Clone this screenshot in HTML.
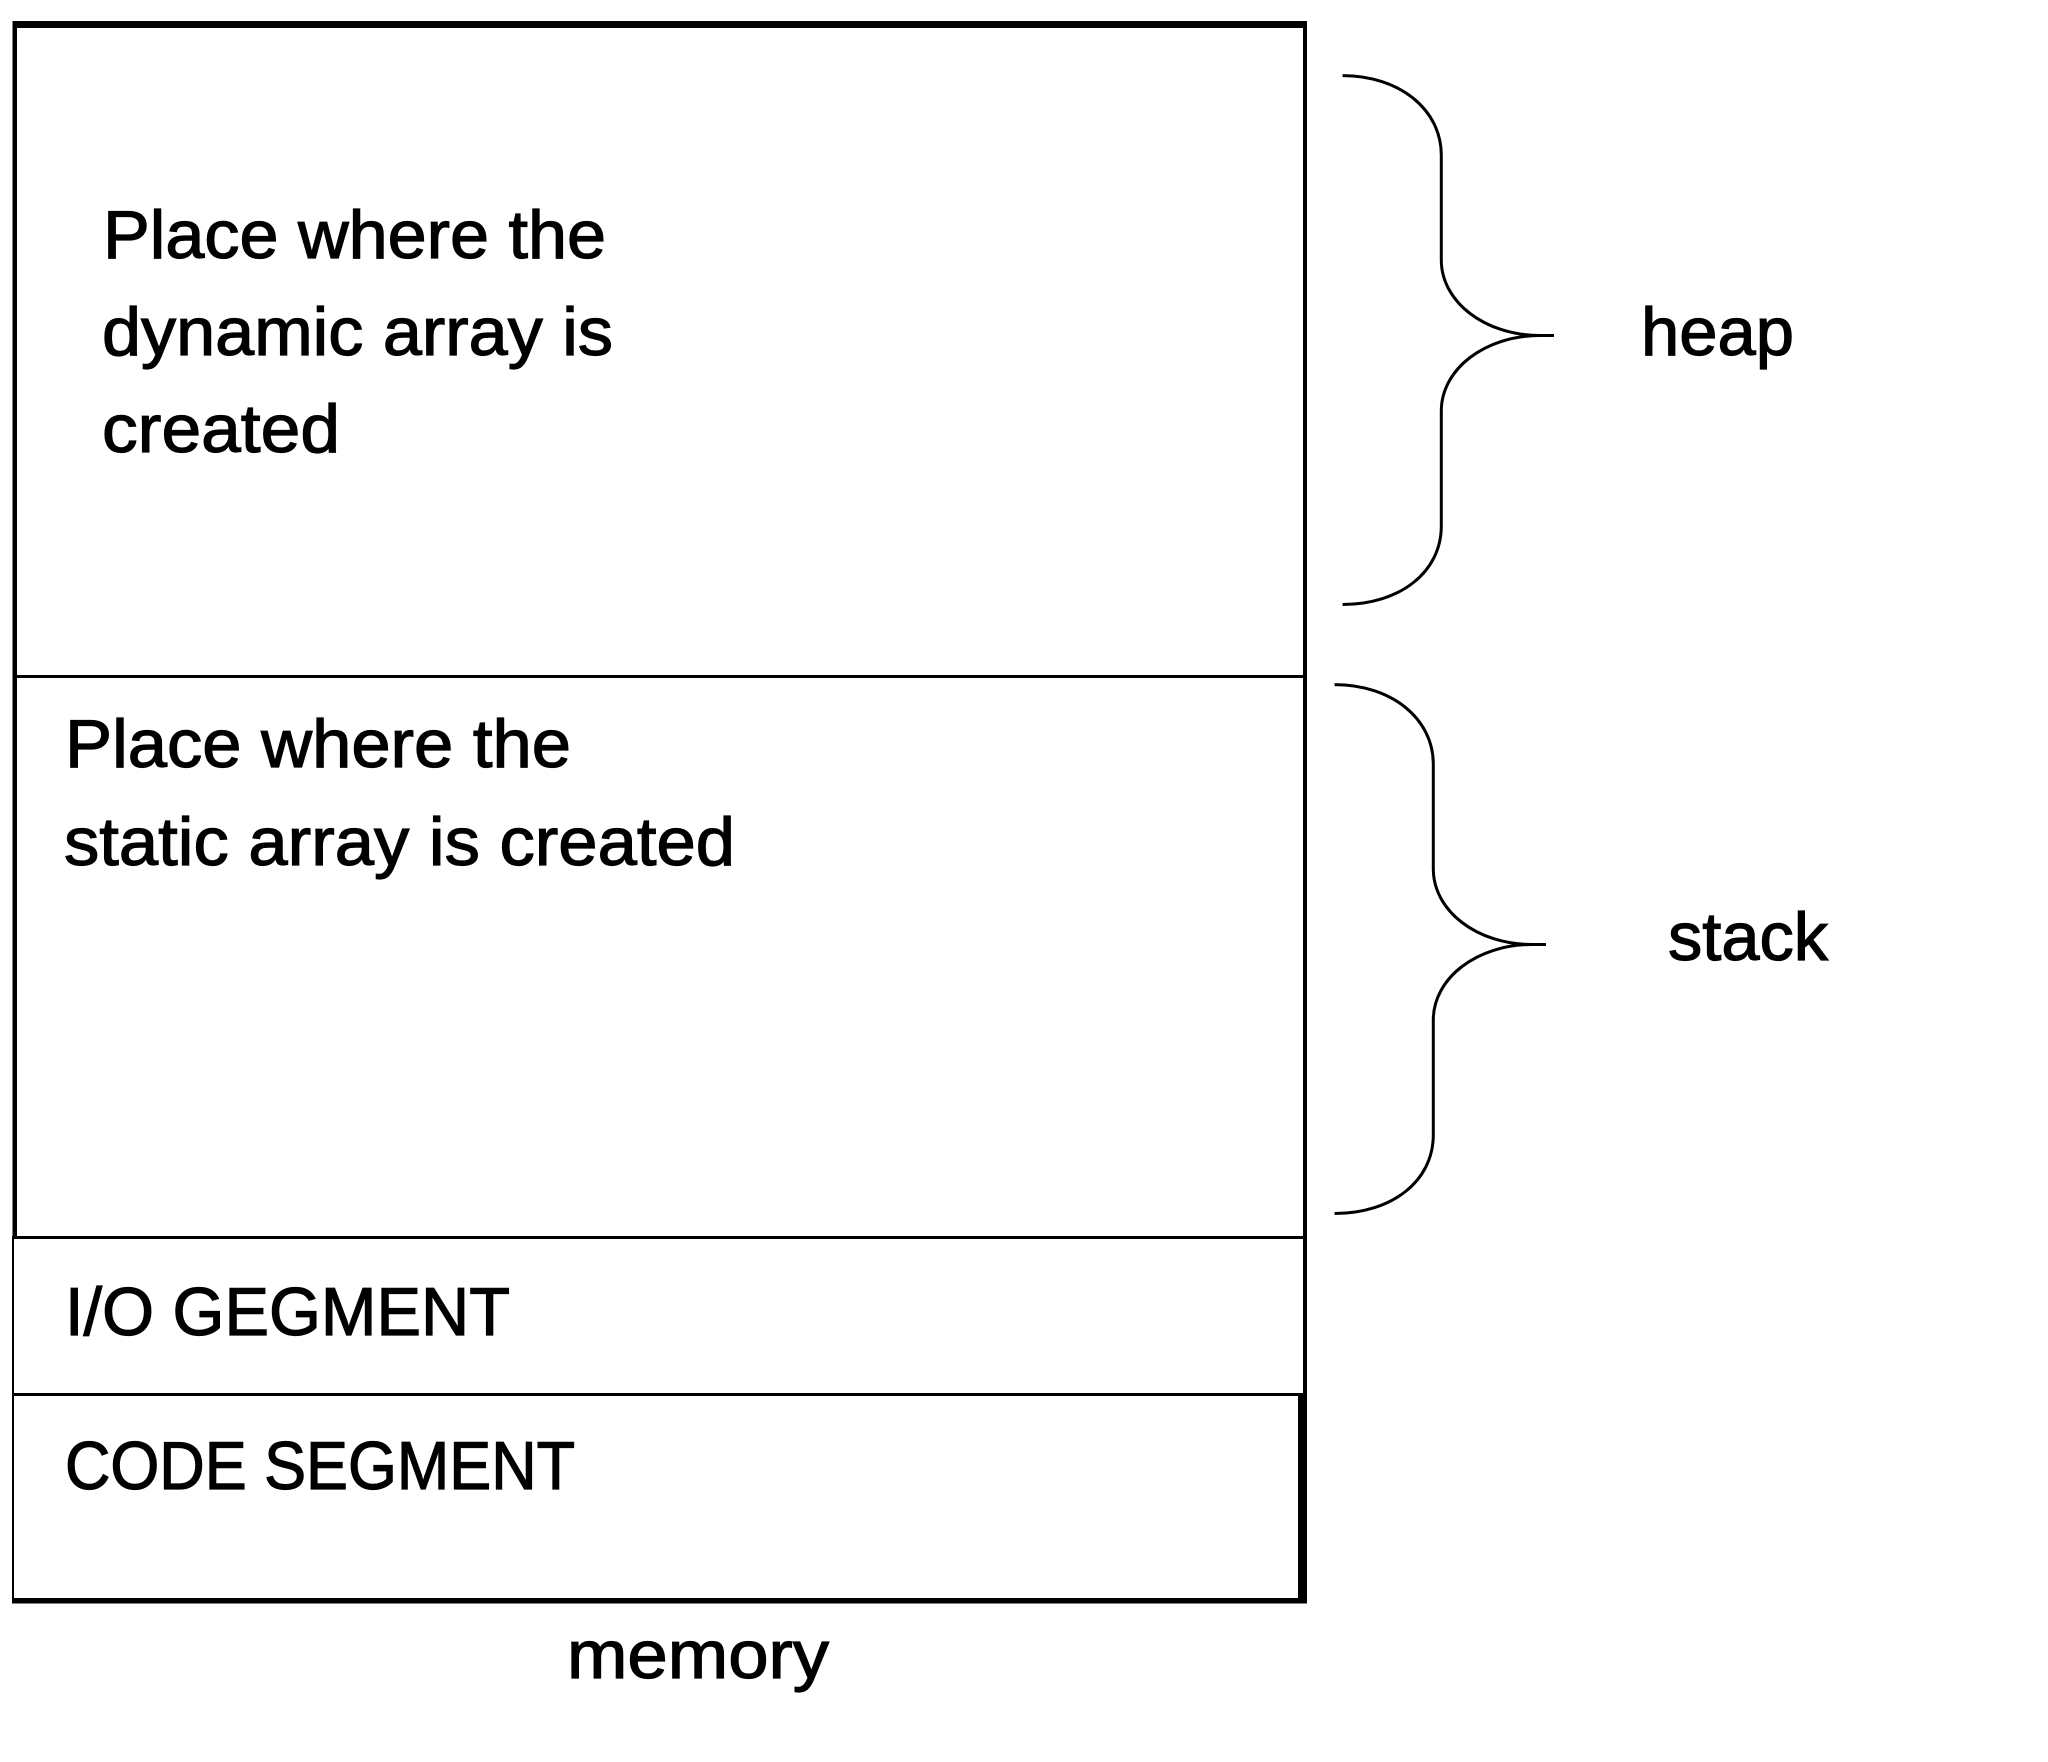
<!DOCTYPE html>
<html><head><meta charset="utf-8"><style>
html,body{margin:0;padding:0;background:#fff;width:2048px;height:1762px;overflow:hidden}
svg{display:block}
text{font-family:"Liberation Sans",sans-serif;font-size:68px;fill:#000;stroke:#000;stroke-width:1.2px}
</style></head><body>
<svg width="2048" height="1762" viewBox="0 0 2048 1762" xmlns="http://www.w3.org/2000/svg">
<rect width="2048" height="1762" fill="#fff"/>
<g fill="#000">
<rect x="13" y="21" width="1294" height="7"/>
<rect x="12.5" y="21" width="4.5" height="1217"/>
<rect x="12" y="1238" width="2" height="365"/>
<rect x="1303" y="21" width="4" height="1582"/>
<rect x="1298" y="1395" width="9" height="208"/>
<rect x="12" y="1598" width="1295" height="5.5"/>
<rect x="13" y="675" width="1292" height="3"/>
<rect x="12" y="1236" width="1293" height="3"/>
<rect x="12" y="1393" width="1293" height="3"/>
</g>
<g fill="none" stroke="#000" stroke-width="3">
<path d="M1342.6 75.6C1400 75.6 1441.3 110 1441.3 155V260C1441.3 302 1485 335.5 1540 335.5H1554H1540C1485 335.5 1441.3 369 1441.3 411V526C1441.3 572 1400 604.5 1342.6 604.5"/>
<path transform="translate(-8 609)" d="M1342.6 75.6C1400 75.6 1441.3 110 1441.3 155V260C1441.3 302 1485 335.5 1540 335.5H1554H1540C1485 335.5 1441.3 369 1441.3 411V526C1441.3 572 1400 604.5 1342.6 604.5"/>
</g>
<text x="103" y="258" textLength="503" lengthAdjust="spacingAndGlyphs">Place where the</text>
<text x="102" y="355" textLength="511" lengthAdjust="spacingAndGlyphs">dynamic array is</text>
<text x="102" y="452" textLength="238" lengthAdjust="spacingAndGlyphs">created</text>
<text x="65" y="767" textLength="506" lengthAdjust="spacingAndGlyphs">Place where the</text>
<text x="64" y="865" textLength="671" lengthAdjust="spacingAndGlyphs">static array is created</text>
<text x="65" y="1335" textLength="445" lengthAdjust="spacingAndGlyphs">I/O GEGMENT</text>
<text x="65" y="1489" textLength="510" lengthAdjust="spacingAndGlyphs">CODE SEGMENT</text>
<text x="567" y="1678" textLength="262" lengthAdjust="spacingAndGlyphs">memory</text>
<text x="1641" y="355" textLength="153" lengthAdjust="spacingAndGlyphs">heap</text>
<text x="1668" y="960" textLength="160" lengthAdjust="spacingAndGlyphs">stack</text>
</svg>
</body></html>
